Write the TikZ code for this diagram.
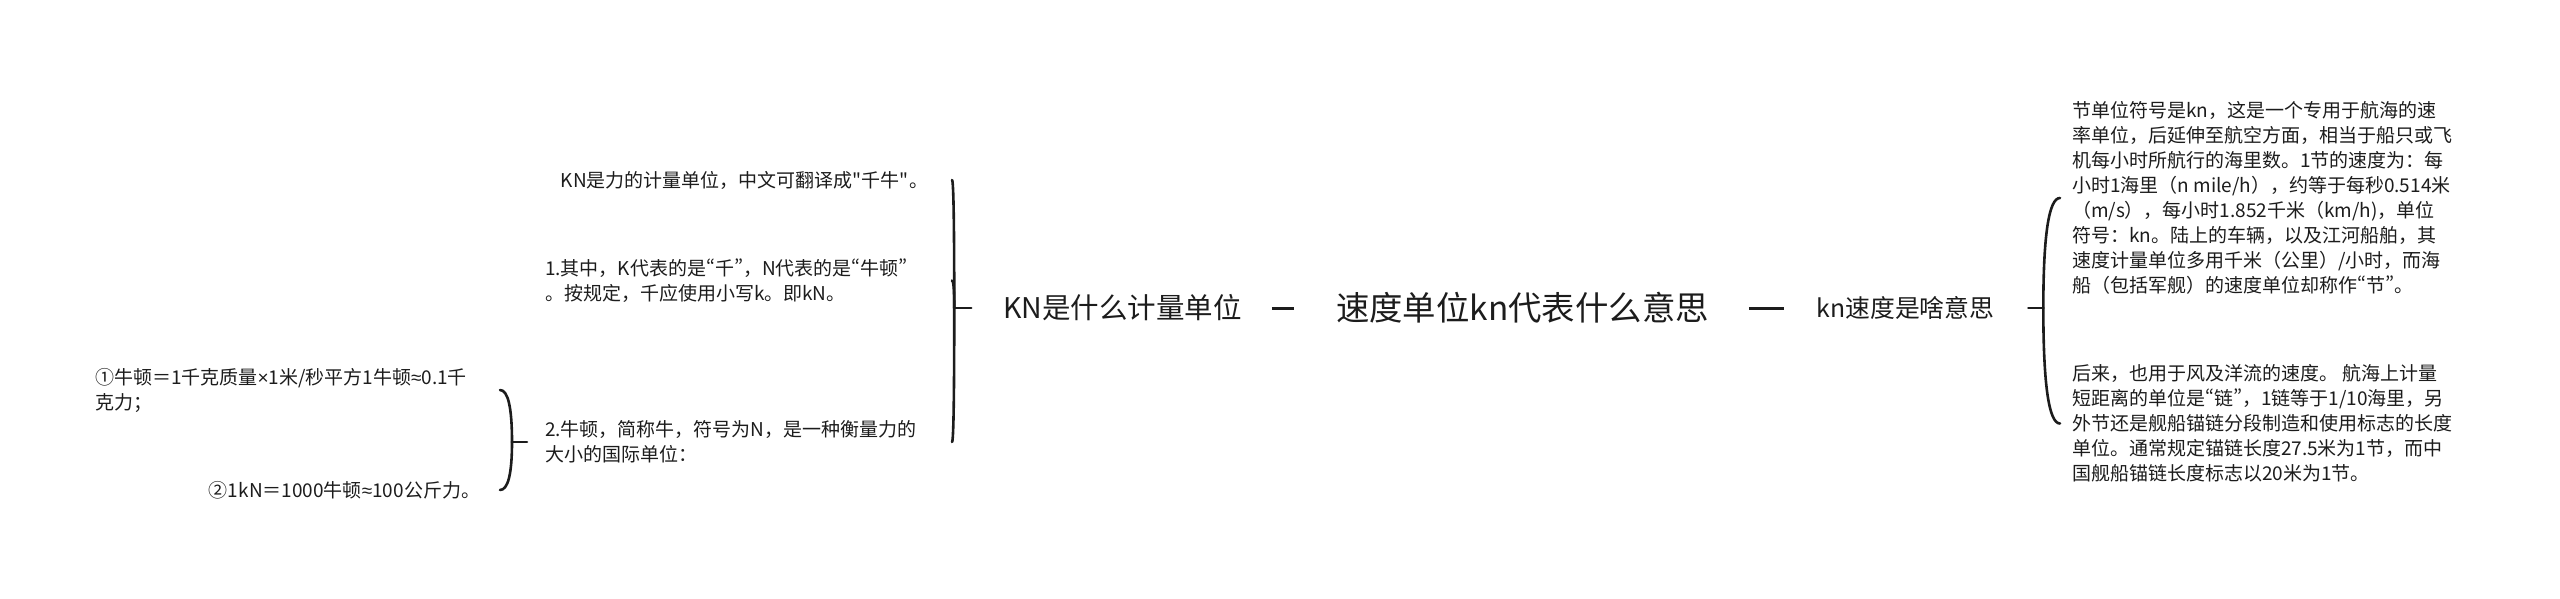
\documentclass[tikz,border=0pt]{standalone}
\usepackage{fontspec}
\newfontfamily\cjk{Noto Sans CJK SC}
\newfontfamily\lat{Liberation Sans}
\usetikzlibrary{calc}
\definecolor{ink}{HTML}{1C1C1C}
\newcommand\bracecurve[2]{\draw[link] (#1) .. controls ($(#1)!0.6667!(#1|-#2)$) and ($(#2)!0.6667!(#1|-#2)$) .. (#2);}
\newcommand\pw[1]{{\addfontfeature{RawFeature=+pwid}#1}}
\newcommand\lt[1]{{\lat #1}}
\begin{document}
\begin{tikzpicture}[x=1pt,y=-1pt,
  txt/.style={inner sep=0pt,outer sep=0pt,text=ink,font=\cjk\fontsize{19}{25}\selectfont,align=left},
  link/.style={draw=ink,line width=2.6pt,line cap=round},
  dashline/.style={draw=ink,line width=3pt}]
\useasboundingbox (0,0) rectangle (2560,598);

% main nodes
\node[txt,font=\cjk\fontsize{33.4}{40}\selectfont] (root) at (1522.5,308) {速度单位kn代表什么意思};
\node[txt,font=\cjk\fontsize{28.5}{34}\selectfont] (kn) at (1122.5,308) {KN是什么计量单位};
\node[txt,font=\cjk\fontsize{24.8}{30}\selectfont] (ks) at (1905.5,308) {kn速度是啥意思};

\draw[dashline] ([xshift=30pt]kn.east) -- ([xshift=-42pt]root.west);
\draw[dashline] ([xshift=40pt]root.east) -- ([xshift=-33pt]ks.west);

% left children
\node[txt,anchor=east] (c1) at (928,180) {KN是力的计量单位，中文可翻译成"千牛"。};
\node[txt,anchor=west] (c2) at (545,280.5) {1.其中，K代表的是\pw{“}千\pw{”}，N代表的是\pw{“}牛顿\pw{”}\\%
。按规定，千应使用小写k。即kN。};
\node[txt,anchor=west] (c3) at (545,442) {2.牛顿，简称牛，符号为N，是一种衡量力的\\%
大小的国际单位：};

\coordinate (L0) at ([xshift=-32pt]kn.west);
\coordinate (L1) at ([xshift=-49pt]kn.west);
\coordinate (h1) at (952,180);
\coordinate (h2) at (952,280.5);
\coordinate (h3) at (952,442);
\draw[link] (L0) -- (L1);
\bracecurve{L1}{h1}
\bracecurve{L1}{h2}
\bracecurve{L1}{h3}

% grandchildren of c3
\node[txt,anchor=west] (d1) at (95,390) {①牛顿＝1千克质量\lt{×}1米/秒平方1牛顿\lt{≈}0.1千\\%
克力；};
\node[txt,anchor=east] (d2) at (480,490) {②1kN＝1000牛顿\lt{≈}100公斤力。};

\coordinate (S0) at ([xshift=-18pt]c3.west);
\coordinate (S1) at ([xshift=-33pt]c3.west);
\coordinate (g1) at (500,390);
\coordinate (g2) at (500,490);
\draw[link] (S0) -- (S1);
\bracecurve{S1}{g1}
\bracecurve{S1}{g2}

% right children
\node[txt,anchor=west] (r1) at (2072,198) {节单位符号是kn，这是一个专用于航海的速\\%
率单位，后延伸至航空方面，相当于船只或飞\\%
机每小时所航行的海里数。1节的速度为：每\\%
小时1海里（n mile/h），约等于每秒0.514米\\%
（m/s），每小时1.852千米（km/h)，单位\\%
符号：kn。陆上的车辆，以及江河船舶，其\\%
速度计量单位多用千米（公里）/小时，而海\\%
船（包括军舰）的速度单位却称作\pw{“}节\pw{”}。};
\node[txt,anchor=west] (r2) at (2072,423.5) {后来，也用于风及洋流的速度。 航海上计量\\%
短距离的单位是\pw{“}链\pw{”}，1链等于1/10海里，另\\%
外节还是舰船锚链分段制造和使用标志的长度\\%
单位。通常规定锚链长度27.5米为1节，而中\\%
国舰船锚链长度标志以20米为1节。};

\coordinate (R0) at ([xshift=34pt]ks.east);
\coordinate (R1) at ([xshift=49pt]ks.east);
\coordinate (k1) at (2060,198);
\coordinate (k2) at (2060,423.5);
\draw[link] (R0) -- (R1);
\bracecurve{R1}{k1}
\bracecurve{R1}{k2}
\end{tikzpicture}
\end{document}
